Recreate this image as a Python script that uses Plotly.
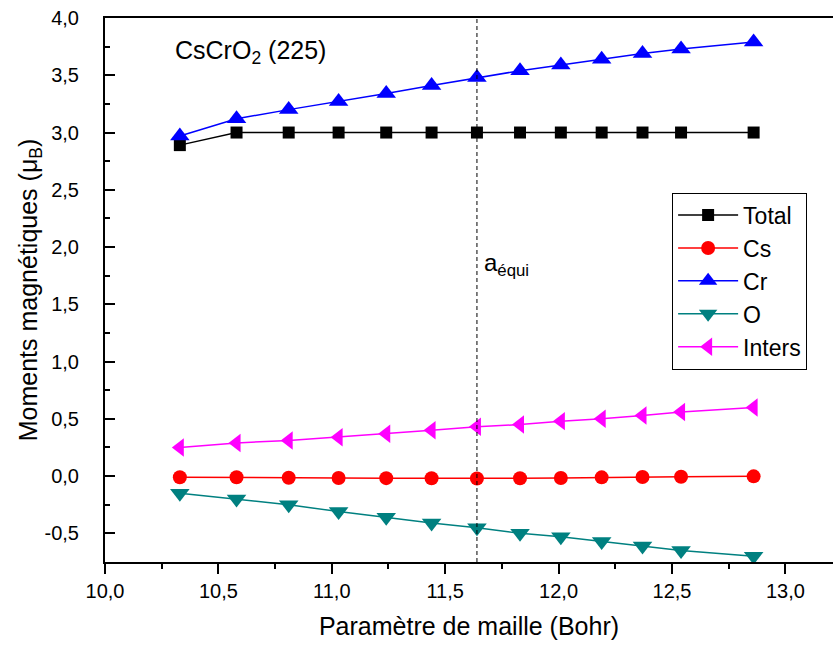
import plotly.graph_objects as go

# Data
lattice = [10.33, 10.58, 10.81, 11.03, 11.24, 11.44, 11.64, 11.83, 12.01, 12.19, 12.37, 12.54, 12.86]
total = [2.89, 3.0, 3.0, 3.0, 3.0, 3.0, 3.0, 3.0, 3.0, 3.0, 3.0, 3.0, 3.0]
cs = [-0.010, -0.010, -0.015, -0.016, -0.018, -0.019, -0.021, -0.019, -0.016, -0.011, -0.008, -0.005, -0.002]
cr = [2.97, 3.12, 3.20, 3.27, 3.34, 3.41, 3.48, 3.54, 3.59, 3.64, 3.69, 3.73, 3.79]
o = [-0.15, -0.20, -0.25, -0.31, -0.36, -0.41, -0.45, -0.50, -0.53, -0.57, -0.61, -0.65, -0.70]
inters = [0.25, 0.29, 0.31, 0.34, 0.37, 0.40, 0.43, 0.45, 0.48, 0.50, 0.53, 0.56, 0.60]
a_equi = 11.64

x_tickvals = [10.0, 10.5, 11.0, 11.5, 12.0, 12.5, 13.0]
x_ticktext = ["10,0", "10,5", "11,0", "11,5", "12,0", "12,5", "13,0"]
y_tickvals = [-0.5, 0.0, 0.5, 1.0, 1.5, 2.0, 2.5, 3.0, 3.5, 4.0]
y_ticktext = ["-0,5", "0,0", "0,5", "1,0", "1,5", "2,0", "2,5", "3,0", "3,5", "4,0"]

series = [
    ("Total", total, "#000000", "square", 12),
    ("Cs", cs, "#ff0000", "circle", 14),
    ("Cr", cr, "#0000ff", "triangle-up", 17),
    ("O", o, "#008080", "triangle-down", 17),
    ("Inters", inters, "#ff00ff", "triangle-left", 16),
]

FONT = "Arial, Liberation Sans, sans-serif"

fig = go.Figure()
for name, vals, color, sym, size in series:
    fig.add_trace(go.Scatter(
        x=lattice, y=vals, name=name, mode="lines+markers",
        line=dict(color=color, width=1.5),
        marker=dict(symbol=sym, size=size, color=color),
    ))

fig.add_shape(type="line", xref="x", yref="paper", x0=a_equi, x1=a_equi, y0=0, y1=1,
              line=dict(color="black", width=1, dash="4px,3px"))

fig.add_annotation(x=a_equi, y=1.85, xref="x", yref="y", text="a<sub>équi</sub>",
                   showarrow=False, xanchor="left", yanchor="middle", xshift=5,
                   font=dict(size=24, family=FONT, color="black"))
fig.add_annotation(x=10.30, y=3.70, xref="x", yref="y", text="CsCrO<sub>2</sub> (225)",
                   showarrow=False, xanchor="left", yanchor="middle",
                   font=dict(size=25, family=FONT, color="black"))

fig.update_layout(
    width=833, height=648,
    margin=dict(l=105, r=0, t=18, b=86),
    paper_bgcolor="white", plot_bgcolor="white",
    font=dict(family=FONT, color="black", size=20),
    legend=dict(
        x=0.779, y=0.679, xanchor="left", yanchor="top",
        bgcolor="white", bordercolor="black", borderwidth=1,
        font=dict(size=23, family=FONT, color="black"),
        tracegroupgap=0, itemwidth=60,
    ),
    xaxis=dict(
        range=[10, 13.21], tickvals=x_tickvals, ticktext=x_ticktext,
        showline=True, linecolor="black", linewidth=2, mirror=True,
        ticks="outside", ticklen=10, tickwidth=2, tickcolor="black",
        minor=dict(ticks="outside", ticklen=5, tickwidth=2, dtick=0.25, tick0=10, tickcolor="black"),
        showgrid=False, zeroline=False,
        tickfont=dict(size=20),
        title=dict(text="Paramètre de maille (Bohr)", font=dict(size=25), standoff=16),
    ),
    yaxis=dict(
        range=[-0.75, 4.0], tickvals=y_tickvals, ticktext=y_ticktext,
        showline=True, linecolor="black", linewidth=2, mirror=False,
        ticks="inside", ticklen=10, tickwidth=2, tickcolor="black",
        minor=dict(ticks="inside", ticklen=5, tickwidth=2, dtick=0.25, tick0=0, tickcolor="black"),
        showgrid=False, zeroline=False,
        tickfont=dict(size=20), ticklabelstandoff=20,
        title=dict(text="Moments magnétiques (μ<sub>B</sub>)", font=dict(size=25), standoff=0),
    ),
)

fig.write_html("out.html")
